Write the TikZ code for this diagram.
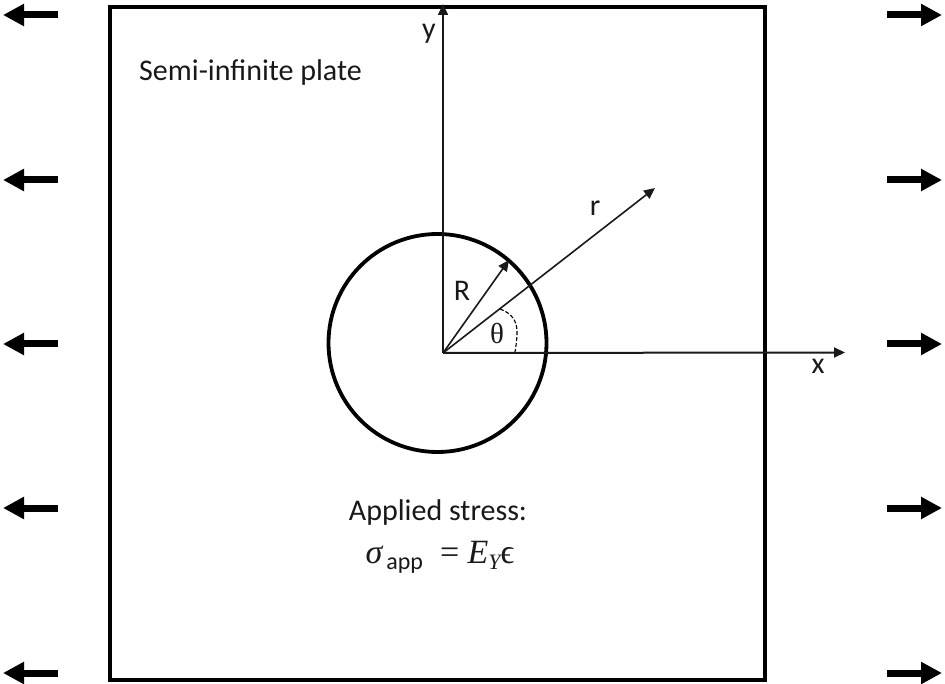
\documentclass[tikz,border=0pt]{standalone}
\usepackage{fontspec}
\setmainfont{Carlito}
\newfontfamily\thetafont{Liberation Serif}
\usetikzlibrary{arrows.meta}
\tikzset{
  plate/.style={draw=black,line width=3.8pt,fill=none,outer sep=0pt},
  hole/.style={draw=black,line width=3.8pt,fill=none,circle,inner sep=0pt,outer sep=0pt,minimum size=218pt},
  axis/.style={draw=black!90,line width=1.6pt,-{Triangle[length=11pt,width=10pt]}},
  load/.style={draw=black,line width=7pt,-{Triangle[length=21pt,width=21pt]}},
  lbl/.style={font=\fontsize{30}{34}\selectfont,text=black!90,inner sep=0pt}
}
\begin{document}
\begin{tikzpicture}[x=1pt,y=-1pt]
\useasboundingbox (0,0) rectangle (945,684);
\fill[white] (0,0) rectangle (945,684);
\node[plate,minimum width=655pt,minimum height=673pt,anchor=north west,inner sep=0pt] (plate) at (110,7) {};
\node[hole] (hole) at (437.5,343) {};
\coordinate (O) at (443,353);
\coordinate (yend) at (443,4);
\coordinate (xend) at (845,352.5);
\coordinate (rend) at (655,188);
\coordinate (Rend) at (509,260);
\coordinate (tha) at (500,309);
\coordinate (thb) at (515,352);
\draw[axis] (O) -- (yend);
\draw[axis,line width=2pt] (O) -- (xend);
\draw[axis] (O) -- (rend);
\draw[axis] (O) -- (Rend);
\draw[black,line width=1.1pt,dash pattern=on 4pt off 2pt] (tha) .. controls (511,313) and (517,320) .. (517,332) .. controls (517,340) and (516,346) .. (thb);
\node[lbl] (ylabel) at (429,34) {y};
\node[lbl] (xlabel) at (818,366) {x};
\node[lbl] (rlabel) at (595,208) {r};
\node[lbl] (Rlabel) at (462,291) {R};
\node[font=\thetafont\fontsize{29}{32}\selectfont,text=black!90,inner sep=0pt] (thlabel) at (497,334) {θ};
\node[lbl,anchor=west] (title) at (139,73) {Semi-infinite plate};
\node[lbl] (stress) at (438,513) {Applied stress:};
\node[text=black!90,inner sep=0pt] (eq) at (440,557) {\thetafont\fontsize{34}{36}\selectfont\itshape σ\raisebox{-6pt}{\normalfont\rmfamily\fontsize{24}{26}\selectfont\,app}\ \ \upshape =\ \itshape E\raisebox{-6pt}{\fontsize{22}{24}\selectfont Y}\upshape ϵ};
\foreach \n/\y in {a/15,b/180,c/344,d/508,e/673}{
  \coordinate (L\n s) at (58,\y);
  \coordinate (L\n e) at (3,\y);
  \coordinate (R\n s) at (887,\y);
  \coordinate (R\n e) at (942,\y);
  \draw[load] (L\n s) -- (L\n e);
  \draw[load] (R\n s) -- (R\n e);
}
\end{tikzpicture}
\end{document}
